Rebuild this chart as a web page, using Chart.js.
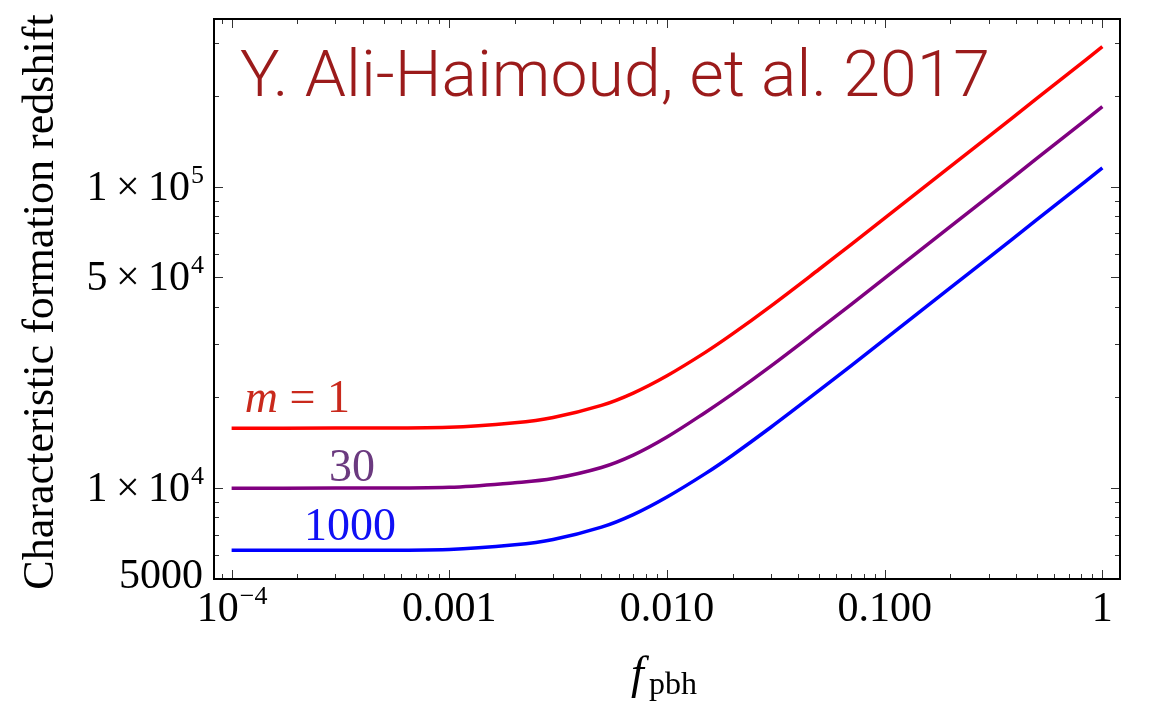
<!DOCTYPE html>
<html>
<head>
<meta charset="utf-8">
<script src="https://cdn.jsdelivr.net/npm/chart.js@4.4.1/dist/chart.umd.min.js"></script>
<style>
  html, body { margin: 0; padding: 0; background: #fff; }
  #wrap { width: 1154px; height: 705px; }
</style>
</head>
<body>
<div id="wrap"><canvas id="chart" width="1154" height="705"></canvas></div>
<script>
// f_pbh sample points
const fValues = [1e-4, 3e-4, 1e-3, 2e-3, 3e-3, 5e-3, 7e-3, 0.01, 0.015, 0.02, 0.03, 0.05, 0.07, 0.1, 0.2, 0.3, 0.5, 0.7, 1];

// characteristic formation redshift per mass
const zM1    = [15810, 15830, 15930, 16490, 17170, 18830, 20690, 23610, 28220, 32490, 40200, 53250, 64280, 78650, 116510, 146690, 196210, 237680, 291270];
const zM30   = [10000, 10010, 10070, 10430, 10765, 11720, 12880, 14790, 17840, 20550, 25420, 33680, 40650, 49740, 73690, 92770, 124100, 150300, 184200];
const zM1000 = [6223, 6230, 6268, 6489, 6758, 7428, 8177, 9354, 11180, 12870, 15930, 21100, 25480, 31170, 46150, 58100, 77750, 94170, 115430];

// axis ticks
const xTickValues = [1e-4, 1e-3, 0.01, 0.1, 1];
const xTickLabels = ['10^\u22124', '0.001', '0.010', '0.100', '1'];
const xMinorTicks = [9e-5, 2e-4, 3e-4, 4e-4, 5e-4, 6e-4, 7e-4, 8e-4, 9e-4,
  2e-3, 3e-3, 4e-3, 5e-3, 6e-3, 7e-3, 8e-3, 9e-3,
  0.02, 0.03, 0.04, 0.05, 0.06, 0.07, 0.08, 0.09,
  0.2, 0.3, 0.4, 0.5, 0.6, 0.7, 0.8, 0.9];
const yTickValues = [5000, 1e4, 5e4, 1e5];
const yTickLabels = ['5000', '1\u2009\u00d7\u200910^4', '5\u2009\u00d7\u200910^4', '1\u2009\u00d7\u200910^5'];
const yMinorTicks = [6000, 7000, 8000, 9000, 2e4, 3e4, 4e4, 6e4, 7e4, 8e4, 9e4, 2e5, 3e5];

// curve labels: [italic part, regular part, colour, f anchor, z anchor]
const curveLabels = [
  ['m', ' = 1', '#c9291c', 1.15e-4, 17950],
  ['', '30', '#6b3a7f', 2.8e-4, 10600],
  ['', '1000', '#1010f5', 2.15e-4, 6750]
];

const SERIF = '"Liberation Serif", "Times New Roman", serif';

// draw "base^sup" text, anchored by align
function drawSupText(ctx, str, x, y, align, size, supSize, raise) {
  const parts = str.split('^');
  ctx.font = size + 'px ' + SERIF;
  const w1 = ctx.measureText(parts[0]).width;
  let w2 = 0;
  if (parts[1]) { ctx.font = supSize + 'px ' + SERIF; w2 = ctx.measureText(parts[1]).width; }
  const total = w1 + w2;
  let x0 = align === 'right' ? x - total : align === 'center' ? x - total / 2 : x;
  ctx.textAlign = 'left';
  ctx.textBaseline = 'alphabetic';
  ctx.font = size + 'px ' + SERIF;
  ctx.fillText(parts[0], x0, y);
  if (parts[1]) {
    ctx.font = supSize + 'px ' + SERIF;
    ctx.fillText(parts[1], x0 + w1 + 1, y - raise);
  }
}

const framePlugin = {
  id: 'frame',
  afterDraw(chart) {
    const ctx = chart.ctx;
    const a = chart.chartArea;
    const xs = chart.scales.x, ys = chart.scales.y;
    ctx.save();

    // ticks, inward on all four sides
    ctx.strokeStyle = '#333';
    ctx.lineWidth = 1;
    const tick = (v, len, isX) => {
      ctx.beginPath();
      if (isX) {
        const p = Math.round(xs.getPixelForValue(v)) + 0.5;
        if (p < a.left || p > a.right) return;
        ctx.moveTo(p, a.bottom); ctx.lineTo(p, a.bottom - len);
        ctx.moveTo(p, a.top); ctx.lineTo(p, a.top + len);
      } else {
        const p = Math.round(ys.getPixelForValue(v)) + 0.5;
        if (p < a.top || p > a.bottom) return;
        ctx.moveTo(a.left, p); ctx.lineTo(a.left + len, p);
        ctx.moveTo(a.right, p); ctx.lineTo(a.right - len, p);
      }
      ctx.stroke();
    };
    xMinorTicks.forEach(v => tick(v, 5, true));
    xTickValues.forEach(v => tick(v, 9, true));
    yMinorTicks.forEach(v => tick(v, 5, false));
    yTickValues.forEach(v => tick(v, 9, false));

    // frame
    ctx.strokeStyle = '#000';
    ctx.lineWidth = 2;
    ctx.strokeRect(a.left, a.top, a.right - a.left, a.bottom - a.top);

    // tick labels
    ctx.fillStyle = '#000';
    yTickValues.forEach((v, i) => {
      const p = ys.getPixelForValue(v);
      drawSupText(ctx, yTickLabels[i], 203, Math.min(p + 13, a.bottom + 9), 'right', 42, 26, 17);
    });
    xTickValues.forEach((v, i) => {
      const p = xs.getPixelForValue(v);
      drawSupText(ctx, xTickLabels[i], p, 621, 'center', 42, 26, 17);
    });

    // y axis title
    ctx.save();
    ctx.font = '42px ' + SERIF;
    const yTitle = 'Characteristic formation redshift';
    const tw = ctx.measureText(yTitle).width;
    const fs = 42 * 575 / tw;
    ctx.font = fs.toFixed(1) + 'px ' + SERIF;
    ctx.translate(53, 302);
    ctx.rotate(-Math.PI / 2);
    ctx.textAlign = 'center';
    ctx.textBaseline = 'alphabetic';
    ctx.fillText(yTitle, 0, 0);
    ctx.restore();

    // x axis title: f_pbh
    ctx.textAlign = 'left';
    ctx.textBaseline = 'alphabetic';
    ctx.font = 'italic 46px ' + SERIF;
    ctx.fillText('f', 631, 688);
    ctx.font = '32px ' + SERIF;
    ctx.fillText('pbh', 649, 694);

    // curve labels
    curveLabels.forEach(l => {
      const px = xs.getPixelForValue(l[3]);
      const py = ys.getPixelForValue(l[4]);
      ctx.fillStyle = l[2];
      let x = px;
      if (l[0]) {
        ctx.font = 'italic 46px ' + SERIF;
        ctx.fillText(l[0], x, py);
        x += ctx.measureText(l[0]).width;
      }
      ctx.font = '46px ' + SERIF;
      ctx.fillText(l[1], x, py);
    });

    // reference note
    ctx.fillStyle = '#9b1b1b';
    ctx.font = '300 64px Roboto, "Liberation Sans", Arial, sans-serif';
    const note = 'Y. Ali-Haimoud, et al. 2017';
    const nw = ctx.measureText(note).width;
    ctx.save();
    ctx.translate(240, 96);
    ctx.scale(750 / nw, 1);
    ctx.fillText(note, 0, 0);
    ctx.restore();

    ctx.restore();
  }
};

const pts = zs => fValues.map((f, i) => ({ x: f, y: zs[i] }));

new Chart(document.getElementById('chart'), {
  type: 'line',
  data: {
    datasets: [
      { label: 'm = 1', data: pts(zM1), borderColor: '#ff0000' },
      { label: '30', data: pts(zM30), borderColor: '#800080' },
      { label: '1000', data: pts(zM1000), borderColor: '#0000ff' }
    ].map(d => Object.assign(d, { borderWidth: 3.5, pointRadius: 0, fill: false, tension: 0.35 }))
  },
  options: {
    responsive: false,
    animation: false,
    events: [],
    layout: { padding: { left: 214, top: 19, right: 34, bottom: 126 } },
    plugins: { legend: { display: false }, tooltip: { enabled: false } },
    scales: {
      x: { type: 'logarithmic', min: 8.3e-5, max: 1.205, display: false },
      y: { type: 'logarithmic', min: 5000, max: 360000, display: false }
    }
  },
  plugins: [framePlugin]
});
</script>
</body>
</html>
